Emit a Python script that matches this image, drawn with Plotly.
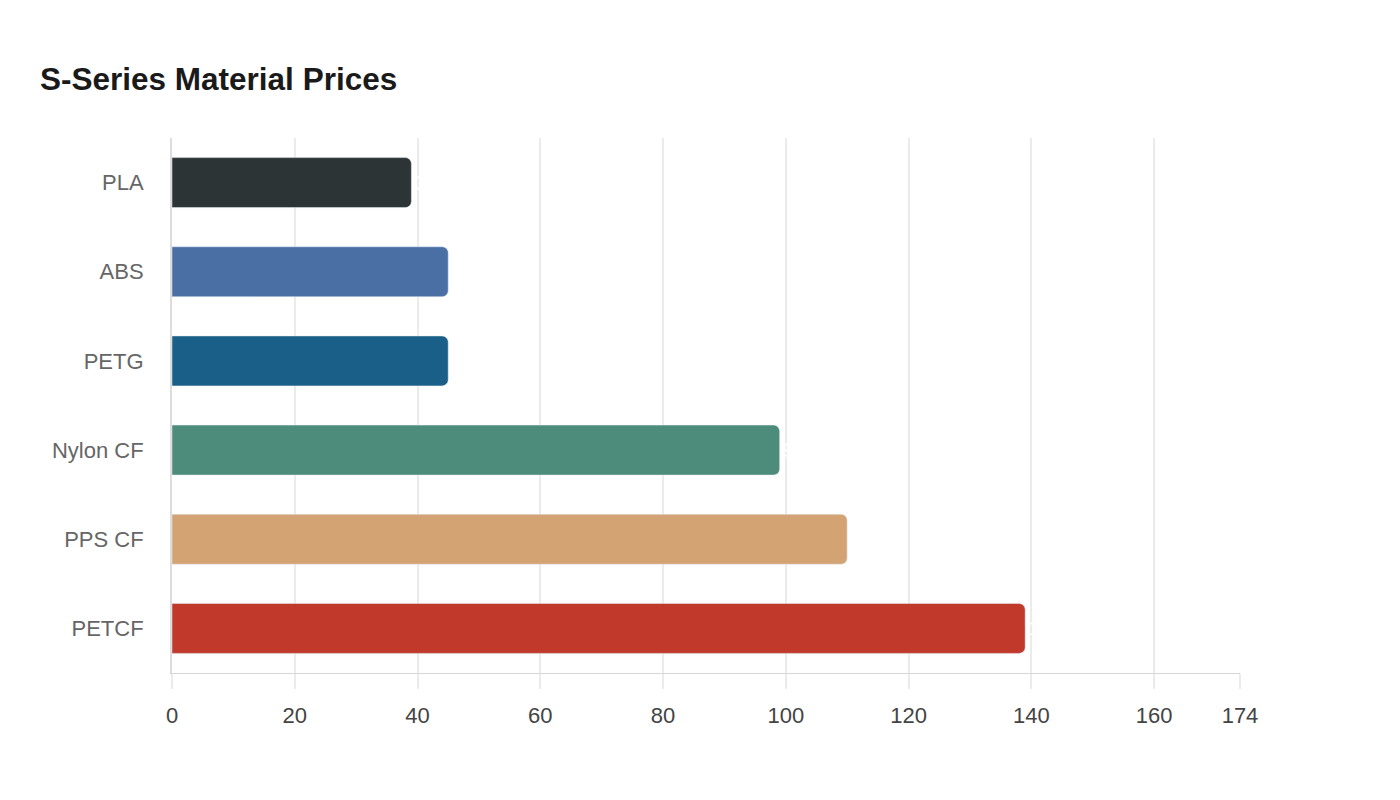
import plotly.graph_objects as go

# Material prices (S-Series)
materials = ['PLA', 'ABS', 'PETG', 'Nylon CF', 'PPS CF', 'PETCF']
prices = [39, 45, 45, 99, 110, 139]
bar_colors = ['#2d3436', '#4a6fa5', '#1a5f87', '#4d8c7a', '#d4a373', '#c0392b']
x_ticks = [0, 20, 40, 60, 80, 100, 120, 140, 160, 174]

fig = go.Figure(go.Bar(
    x=prices,
    y=materials,
    orientation='h',
    marker=dict(color=bar_colors, cornerradius=6),
    # value labels are white, so they mostly vanish on the white background
    text=[str(p) for p in prices],
    textposition='outside',
    textfont=dict(color='white', size=20),
    cliponaxis=False,
    hovertemplate='%{y}: %{x}<extra></extra>',
))

fig.update_layout(
    width=1400, height=800,
    plot_bgcolor='white', paper_bgcolor='white',
    font=dict(family='Liberation Sans, Arial, sans-serif'),
    title=dict(
        text='<b>S-Series Material Prices</b>',
        x=32 / 1400, xanchor='left', xref='container',
        y=1 - 71 / 800, yanchor='middle', yref='container',
        font=dict(size=31.5, color='#1a1a1a'),
    ),
    margin=dict(l=164, r=168, t=130, b=135),
    bargap=0.44,
    showlegend=False,
)

fig.update_xaxes(
    range=[0, 174],
    tickvals=x_ticks,
    ticktext=[str(v) for v in x_ticks],
    showgrid=True, gridcolor='#ebebeb', gridwidth=2,
    ticks='outside', ticklen=15, tickcolor='#ebebeb', tickwidth=2,
    ticklabelstandoff=8,
    showline=True, linecolor='#d6d6d6', linewidth=1,
    tickfont=dict(size=22, color='#444444'),
    zeroline=False,
)

fig.update_yaxes(
    autorange='reversed',
    showgrid=False,
    showline=True, linecolor='#dddddd', linewidth=2,
    ticks='', ticklabelstandoff=22,
    tickfont=dict(size=22, color='#666666'),
)

fig.write_html('out.html')
